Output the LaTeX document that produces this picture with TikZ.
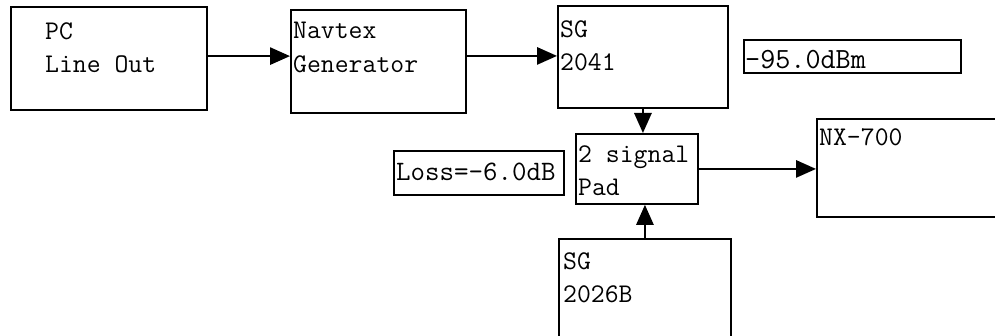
\documentclass[tikz,border=0pt]{standalone}
\usepackage{fontspec}
\usetikzlibrary{arrows.meta,calc}
\tikzset{
 blk/.style 2 args={draw,line width=1.6pt,minimum width=#1*0.03cm,minimum height=#2*0.03cm,inner sep=0pt,anchor=north west},
 lbl/.style={anchor=north west,inner sep=0pt,align=left,font=\fontsize{23}{28.5}\selectfont\ttfamily},
 arr/.style={line width=1.6pt,-{Triangle[length=0.6cm,width=0.52cm]}}
}
\begin{document}
\begin{tikzpicture}[x=0.03cm,y=-0.03cm]
\useasboundingbox (0,0) rectangle (995,336);
\clip (0,0) rectangle (995,336);
\node[blk={196}{103}] (pc) at (10,6) {};
\node[blk={175}{103}] (nav) at (290,9) {};
\node[blk={170}{102}] (sg1) at (557,5) {};
\node[blk={217}{33}] (lvl) at (743,39) {};
\node[blk={122}{70}] (pad) at (575,133) {};
\node[blk={170}{44}] (loss) at (393,150) {};
\node[blk={200}{98}] (nx) at (816,118) {};
\node[blk={172}{120}] (sg2) at (558,238) {};
\node[lbl] (pct) at (45,22) {PC\\Line Out};
\node[lbl] (navt) at (293,22) {Navtex\\Generator};
\node[lbl] (sg1t) at (560,20) {SG\\2041};
\node[lbl,font=\fontsize{25}{30}\selectfont\ttfamily] (lvlt) at (745,50) {-95.0dBm};
\node[lbl] (padt) at (578,145) {2 signal\\Pad};
\node[lbl,font=\fontsize{24}{29}\selectfont\ttfamily] (losst) at (396,163) {Loss=-6.0dB};
\node[lbl] (nxt) at (819,128) {NX-700};
\node[lbl] (sg2t) at (563,252) {SG\\2026B};
\coordinate (a1) at ([yshift=2pt]pc.east);
\coordinate (a2) at ([yshift=4.7pt]nav.east);
\draw[arr] (a1) -- (a1 -| nav.west);
\draw[arr] (a2) -- (a2 -| sg1.west);
\draw[arr] (sg1.south) -- (sg1.south |- pad.north);
\draw[arr] (sg2.north) -- (sg2.north |- pad.south);
\draw[arr] (pad.east) -- (pad.east -| nx.west);
\end{tikzpicture}
\end{document}
